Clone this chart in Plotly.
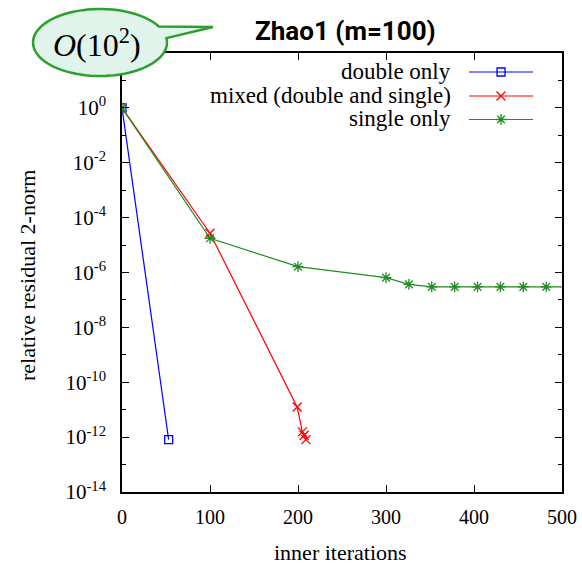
import math
import plotly.graph_objects as go

# ---------------- data ----------------
double_x = [0, 53]
double_y = [1.0, 8.1e-13]

mixed_x = [0, 100, 199, 205, 207, 209]
mixed_y = [1.0, 2.7e-5, 1.26e-11, 1.55e-12, 1.17e-12, 8.1e-13]

single_x = [0, 100, 200, 300, 326, 352, 378, 404, 430, 456, 482, 508]
single_y = [1.0, 1.77e-5, 1.63e-6, 6.5e-7, 3.7e-7, 3.0e-7, 3.0e-7, 3.0e-7,
            3.0e-7, 3.0e-7, 3.0e-7, 3.0e-7]

series_names = ["double only", "mixed (double and single)", "single only"]
x_ticks = [0, 100, 200, 300, 400, 500]
y_major_exp = [0, -2, -4, -6, -8, -10, -12, -14]
y_minor_exp = [1, -1, -3, -5, -7, -9, -11, -13]

# ---------------- layout constants (pixels) ----------------
W, H = 582, 566
L, R, T, B = 122, 562, 53, 492

BLUE = "#0000ff"
RED = "#ff0000"
GREEN = "#228b22"
SERIF = "Liberation Serif, Times New Roman, serif"


def px2paper(px, py):
    return (px - L) / (R - L), (B - py) / (B - T)


fig = go.Figure()

styles = [
    (double_x, double_y, BLUE, "square-open", 8),
    (mixed_x, mixed_y, RED, "x-thin-open", 9),
    (single_x, single_y, GREEN, "asterisk-open", 9),
]
for (xs, ys, c, sym, sz), name in zip(styles, series_names):
    fig.add_trace(go.Scatter(
        x=xs, y=ys, mode="lines+markers", name=name, showlegend=False,
        line=dict(color=c, width=1.2),
        marker=dict(symbol=sym, size=sz, color=c, line=dict(color=c, width=1.3)),
    ))

# ---------------- manual gnuplot-style legend ----------------
leg_rows = [72, 96, 119.5]
leg_text_right = 453
leg_line = (469, 533)
leg_mark = 501
for (xs, ys, c, sym, sz), name, ry in zip(styles, series_names, leg_rows):
    fig.add_trace(go.Scatter(
        x=list(leg_line), y=[ry, ry], mode="lines", xaxis="x2", yaxis="y2",
        line=dict(color=c, width=1.2), showlegend=False, hoverinfo="skip"))
    fig.add_trace(go.Scatter(
        x=[leg_mark], y=[ry], mode="markers", xaxis="x2", yaxis="y2",
        marker=dict(symbol=sym, size=sz, color=c, line=dict(color=c, width=1.3)),
        showlegend=False, hoverinfo="skip"))
    xp, yp = px2paper(leg_text_right, ry - 0.5)
    fig.add_annotation(x=xp, y=yp, xref="paper", yref="paper", text=name,
                       showarrow=False, xanchor="right", yanchor="middle",
                       font=dict(family=SERIF, size=23, color="black"))

# ---------------- axis titles ----------------
xp, yp = px2paper(340, 552)
fig.add_annotation(x=xp, y=yp, xref="paper", yref="paper", text="inner iterations",
                   showarrow=False, xanchor="center", yanchor="middle",
                   font=dict(family=SERIF, size=22, color="black"))
xp, yp = px2paper(27, 276)
fig.add_annotation(x=xp, y=yp, xref="paper", yref="paper", text="relative residual 2-norm",
                   showarrow=False, xanchor="center", yanchor="middle", textangle=-90,
                   font=dict(family=SERIF, size=22, color="black"))

# ---------------- callout bubble ----------------
cx, cy, rx, ry_ = 100, 42.5, 67, 33.5
tip = (213, 27)
a_start = math.radians(-7.6)
a_end = math.radians(360 - 28.7)
pts = []
n = 80
for i in range(n + 1):
    a = a_start + (a_end - a_start) * i / n
    pts.append((cx + rx * math.cos(a), cy + ry_ * math.sin(a)))
pts.append(tip)
path = ""
for i, (px, py) in enumerate(pts):
    xp, yp = px2paper(px, py)
    path += ("M" if i == 0 else "L") + f"{xp:.5f},{yp:.5f} "
path += "Z"
fig.add_shape(type="path", path=path, xref="paper", yref="paper",
              fillcolor="#e0f4ec", line=dict(color="#2ca02c", width=2.5),
              layer="above")
xp, yp = px2paper(97, 43)
fig.add_annotation(x=xp, y=yp, xref="paper", yref="paper",
                   text="<i>O</i>(10<sup>2</sup>)", showarrow=False,
                   xanchor="center", yanchor="middle",
                   font=dict(family=SERIF, size=32, color="black"))

# ---------------- title ----------------
xp, yp = px2paper(345, 31)
fig.add_annotation(x=xp, y=yp, xref="paper", yref="paper",
                   text="<b>Zhao1 (m=100)</b>", showarrow=False,
                   xanchor="center", yanchor="middle",
                   font=dict(family="Roboto, sans-serif", size=26, color="black"))

fig.update_layout(
    width=W, height=H,
    margin=dict(l=L, r=W - R, t=T, b=H - B, autoexpand=False),
    paper_bgcolor="white", plot_bgcolor="white",
    showlegend=False,
    xaxis=dict(
        range=[0, 500], tickvals=x_ticks, ticktext=[str(v) for v in x_ticks],
        ticks="inside", ticklen=7, tickwidth=1.2, tickcolor="black",
        showline=True, linecolor="black", linewidth=1.5, mirror="ticks",
        showgrid=False, zeroline=False, automargin=False,
        tickfont=dict(family=SERIF, size=20, color="black"),
        ticklabelstandoff=6,
    ),
    yaxis=dict(
        type="log", range=[-14, 2],
        tickvals=[10.0 ** e for e in y_major_exp],
        ticktext=[f"10<sup>{e}</sup>" for e in y_major_exp],
        ticks="inside", ticklen=7, tickwidth=1.2, tickcolor="black",
        minor=dict(tickvals=[10.0 ** e for e in y_minor_exp], ticks="inside",
                   ticklen=4, tickwidth=1.2, tickcolor="black"),
        showline=True, linecolor="black", linewidth=1.5, mirror="ticks",
        showgrid=False, zeroline=False, automargin=False,
        tickfont=dict(family=SERIF, size=21, color="black"),
        ticklabelstandoff=10,
    ),
    xaxis2=dict(overlaying="x", range=[L, R], visible=False, fixedrange=True),
    yaxis2=dict(overlaying="y", range=[B, T], visible=False, fixedrange=True),
)

fig.write_html("out.html", config={"displayModeBar": False},
               post_script="document.body.style.margin='0px';document.body.style.padding='0px';")
